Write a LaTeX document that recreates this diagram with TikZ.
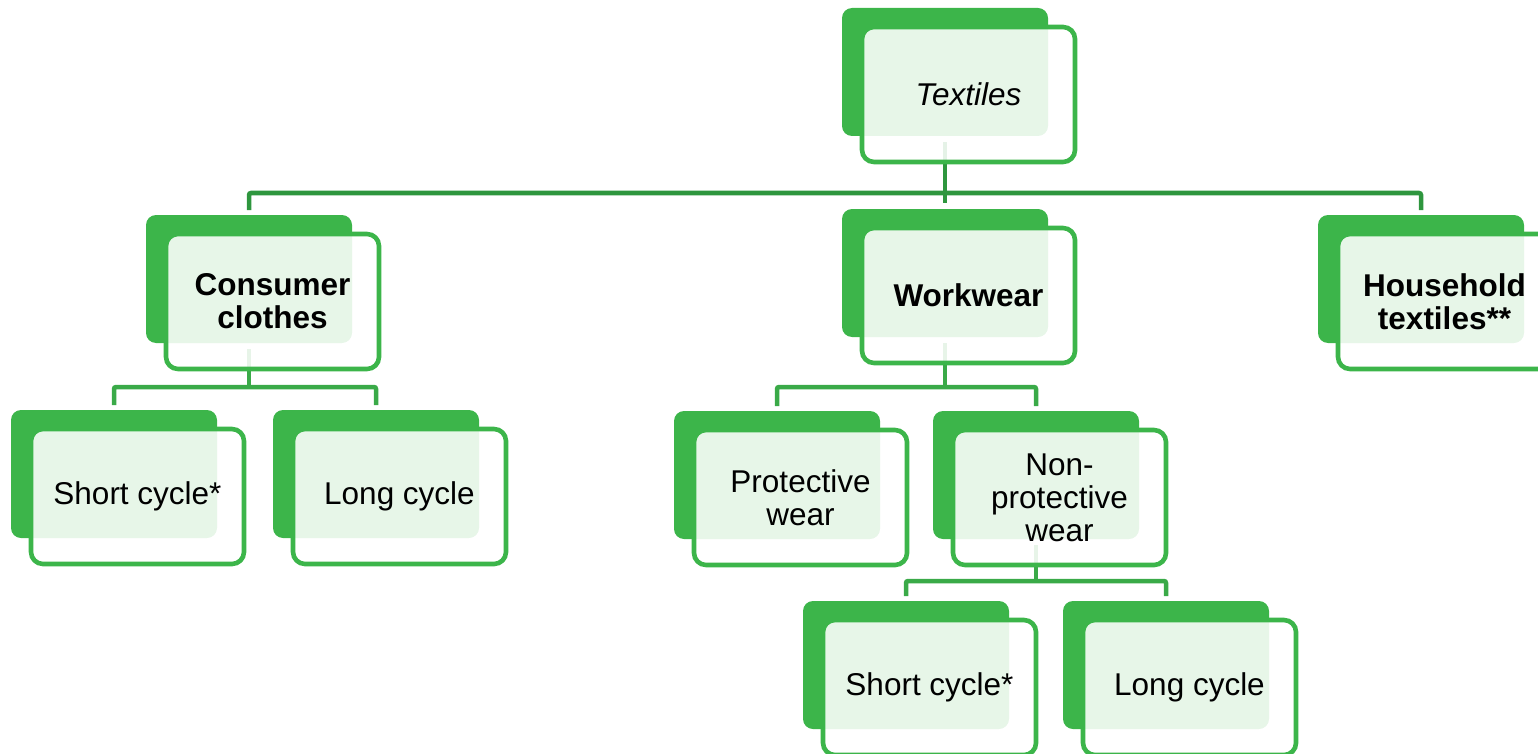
\documentclass[tikz,border=0pt]{standalone}
\usepackage{fontspec}
\setmainfont{Liberation Sans}
\usetikzlibrary{backgrounds}
\definecolor{boxgreen}{RGB}{60,181,74}
\definecolor{bargreen}{RGB}{46,150,62}
\definecolor{lingreen}{RGB}{58,170,72}
\begin{document}
\begin{tikzpicture}[x=1pt,y=-1pt,
  back/.style={draw=none, fill=boxgreen, rounded corners=10pt, minimum width=206pt, minimum height=128pt, inner sep=0pt, outer sep=0pt},
  front/.style={draw=boxgreen, line width=4.6pt, fill=white, fill opacity=0.88, text opacity=1, rounded corners=12pt, minimum width=213pt, minimum height=135pt, inner sep=0pt, outer sep=0pt, align=center, font=\fontsize{31.5}{33}\selectfont},
  pconn/.style={line width=4.5pt, draw=lingreen, shorten <=6pt},
  cconn/.style={line width=4.5pt, draw=lingreen, rounded corners=2pt, shorten <=5pt, shorten >=5pt},
  mainc/.style={draw=bargreen}
]
\useasboundingbox (0,0) rectangle (1538,754);
\clip (0,0) rectangle (1538,754);

% level 1
\node[back] (tB) at (945,72) {};
\node[front] (tF) at (968.5,94.5) {\itshape Textiles};
% level 2
\node[back] (cB) at (249,279) {};
\node[front] (cF) at (272.5,301.5) {\bfseries Consumer\\\bfseries clothes};
\node[back] (wB) at (945,273) {};
\node[front] (wF) at (968.5,295.5) {\bfseries Workwear};
\node[back] (hB) at (1421,279) {};
\node[front] (hF) at (1444.5,301.5) {\bfseries Household\\\bfseries textiles**};
% level 3
\node[back] (s1B) at (114,474) {};
\node[front] (s1F) at (137.5,496.5) {Short cycle*};
\node[back] (l1B) at (376,474) {};
\node[front] (l1F) at (399.5,496.5) {Long cycle};
\node[back] (pB) at (777,475) {};
\node[front] (pF) at (800.5,497.5) {Protective\\wear};
\node[back] (nB) at (1036,475) {};
\node[front] (nF) at (1059.5,497.5) {Non-\\protective\\wear};
% level 4
\node[back] (s2B) at (906,665) {};
\node[front] (s2F) at (929.5,687.5) {Short cycle*};
\node[back] (l2B) at (1166,665) {};
\node[front] (l2F) at (1189.5,687.5) {Long cycle};

\coordinate (j0) at (945,193);
\coordinate (j1) at (249,387);
\coordinate (j2) at (945,387);
\coordinate (j3) at (1036,581);

\begin{scope}[on background layer]
  \draw[pconn, mainc, shorten >=6pt] (tB.south) -- (wB.north);
  \draw[cconn, mainc] (cB.north) -- (cB.north |- j0) -- (hB.north |- j0) -- (hB.north);
  \draw[pconn] (cB.south) -- (j1);
  \draw[cconn] (s1B.north) -- (s1B.north |- j1) -- (l1B.north |- j1) -- (l1B.north);
  \draw[pconn] (wB.south) -- (j2);
  \draw[cconn] (pB.north) -- (pB.north |- j2) -- (nB.north |- j2) -- (nB.north);
  \draw[pconn] (nB.south) -- (j3);
  \draw[cconn] (s2B.north) -- (s2B.north |- j3) -- (l2B.north |- j3) -- (l2B.north);
\end{scope}
\end{tikzpicture}
\end{document}
